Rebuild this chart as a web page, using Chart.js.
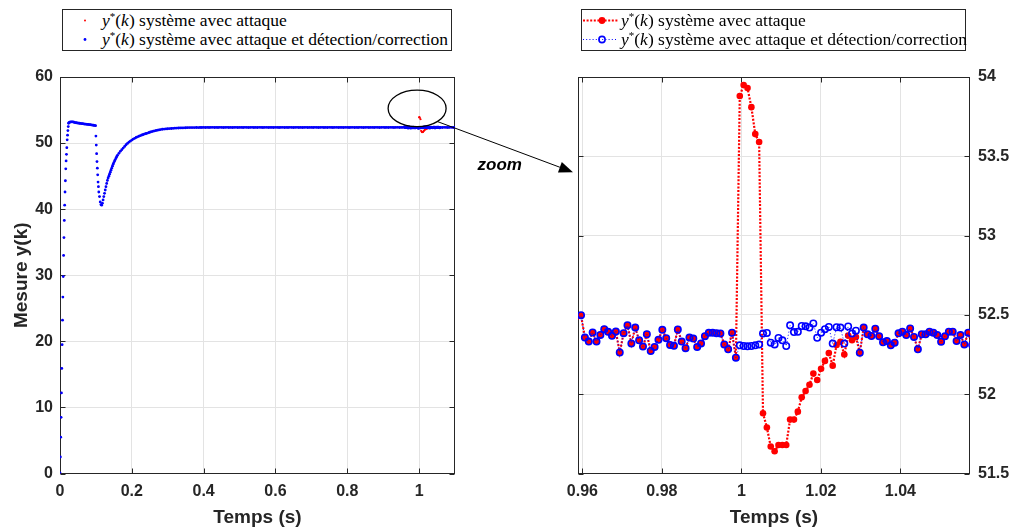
<!DOCTYPE html>
<html><head><meta charset="utf-8">
<script src="https://cdn.jsdelivr.net/npm/chart.js@4.4.1/dist/chart.umd.min.js"></script>
<style>
html,body{margin:0;padding:0;background:#fff;width:1015px;height:532px;overflow:hidden;position:relative}
canvas{position:absolute;top:0}
#left{left:0}
#right{left:500px}
#overlay{left:0;pointer-events:none}
.legend{position:absolute;top:9px;height:42px;border:1px solid #262626;background:#fff;box-sizing:border-box;font-family:"Liberation Serif","Times New Roman",serif;font-size:17.5px;color:#000}
.row{position:absolute;height:19px;line-height:19px;white-space:nowrap}
.row svg{position:absolute;top:0}
.row .txt{position:absolute;top:0}
.row sup{font-size:11px;vertical-align:6px;line-height:0}
#zoomLbl{position:absolute;font:italic bold 17px "Liberation Sans",Arial,sans-serif;color:#000;transform:translate(-50%,-50%);white-space:nowrap}
</style>
</head><body>
<canvas id="left" width="480" height="532"></canvas>
<canvas id="right" width="515" height="532"></canvas>
<canvas id="overlay" width="1015" height="532"></canvas>

<div class="legend" style="left:62px;width:390px">
  <div class="row" style="top:1px;left:0"><svg width="40" height="19" style="left:0"><circle cx="22" cy="9.5" r="1" fill="#ff0000"/></svg><span class="txt" style="left:39px"><i>y</i><sup>*</sup>(<i>k</i>) système avec attaque</span></div>
  <div class="row" style="top:20px;left:0"><svg width="40" height="19" style="left:0"><circle cx="22" cy="9.5" r="1.4" fill="#0000ff"/></svg><span class="txt" style="left:39px"><i>y</i><sup>*</sup>(<i>k</i>) système avec attaque et détection/correction</span></div>
</div>
<div class="legend" style="left:581px;width:385px">
  <div class="row" style="top:1px;left:0"><svg width="40" height="19" style="left:0"><line x1="1" y1="9.5" x2="36" y2="9.5" stroke="#ff0000" stroke-width="2.2" stroke-dasharray="2,1.6"/><circle cx="20" cy="9.5" r="3.4" fill="#ff0000"/></svg><span class="txt" style="left:39px"><i>y</i><sup>*</sup>(<i>k</i>) système avec attaque</span></div>
  <div class="row" style="top:20px;left:0"><svg width="40" height="19" style="left:0"><line x1="1" y1="9.5" x2="36" y2="9.5" stroke="#0000ff" stroke-width="1" stroke-dasharray="1,2.2"/><circle cx="20" cy="9.5" r="3.1" fill="none" stroke="#0000ff" stroke-width="1.6"/></svg><span class="txt" style="left:39px"><i>y</i><sup>*</sup>(<i>k</i>) système avec attaque et détection/correction</span></div>
</div>
<div id="zoomLbl">zoom</div>

<script>
// ---------------- DATA ----------------
// Left panel, before the attack window: both systems give the same output.
const riseStart = 0.000, riseStep = 0.001;
const riseY = [0.1, 2.5, 5.5, 8.5, 12.2, 15.9, 19.5, 23.2, 26.7, 29.8, 33.0, 35.7, 38.3, 40.6, 42.6, 44.3, 46.1, 47.3, 48.3, 49.3, 50.5, 51.2, 51.9, 52.5, 53.0, 53.1];
const plateauStart = 0.027, plateauStep = 0.003;
const plateauY = [53.15, 53.2, 53.22, 53.2, 53.15, 53.1, 53.08, 53.05, 53.02, 53.0, 52.98, 52.95, 52.93, 52.9, 52.88, 52.86, 52.84, 52.82, 52.8, 52.78, 52.75, 52.72, 52.7, 52.67, 52.63];
const dropT = [0.100, 0.101, 0.102, 0.103, 0.104, 0.105, 0.106, 0.107, 0.108, 0.110, 0.112, 0.114, 0.116];
const dropY = [51.06, 49.7, 48.4, 47.2, 46.2, 45.2, 44.1, 43.4, 42.6, 41.9, 41.1, 40.7, 40.6];
const recov1Start = 0.118, recov1Step = 0.002;
const recov1Y = [40.9, 41.4, 41.9, 42.4, 42.9, 43.4, 43.9, 44.35, 44.7, 45.0, 45.3, 45.6, 45.9, 46.2, 46.5, 46.8, 47.05, 47.3, 47.5, 47.75, 47.95, 48.15];
const recov2Start = 0.164, recov2Step = 0.004;
const recov2Y = [48.45, 48.75, 49.0, 49.25, 49.5, 49.75, 49.95, 50.15, 50.3, 50.45, 50.6, 50.72, 50.85, 50.95, 51.05, 51.14, 51.22, 51.3, 51.38, 51.45, 51.52, 51.6, 51.68, 51.74, 51.8, 51.86, 51.91, 51.96, 52.0, 52.05];
const recov3Start = 0.285, recov3Step = 0.005;
const recov3Y = [52.09, 52.12, 52.15, 52.17, 52.19, 52.21, 52.23, 52.25, 52.27, 52.28, 52.29, 52.3, 52.31, 52.32];
const steadyStart = 0.355, steadyStep = 0.005;
const steadyY = [
 52.33, 52.34, 52.34, 52.35, 52.35, 52.36, 52.35, 52.36, 52.36, 52.37,
 52.36, 52.37, 52.36, 52.37, 52.38, 52.36, 52.37, 52.36, 52.38, 52.37,
 52.36, 52.37, 52.38, 52.36, 52.37, 52.36, 52.37, 52.38, 52.36, 52.37,
 52.37, 52.36, 52.38, 52.37, 52.36, 52.37, 52.38, 52.36, 52.37, 52.36,
 52.38, 52.37, 52.36, 52.37, 52.38, 52.36, 52.37, 52.37, 52.36, 52.38,
 52.37, 52.36, 52.37, 52.38, 52.36, 52.37, 52.36, 52.38, 52.37, 52.36,
 52.37, 52.38, 52.36, 52.37, 52.36, 52.37, 52.38, 52.36, 52.37, 52.37,
 52.36, 52.38, 52.37, 52.36, 52.37, 52.38, 52.36, 52.37, 52.36, 52.38,
 52.37, 52.36, 52.37, 52.38, 52.36, 52.37, 52.37, 52.36, 52.38, 52.37,
 52.36, 52.37, 52.38, 52.36, 52.37, 52.36, 52.38, 52.37, 52.36, 52.37,
 52.38, 52.36, 52.37, 52.37, 52.36, 52.38, 52.37, 52.36, 52.37, 52.38,
 52.36, 52.37, 52.36, 52.38, 52.37, 52.36, 52.37, 52.38, 52.36, 52.37,
 52.37];
const tailStart = 1.060, tailStep = 0.005;
const tailY = [52.37, 52.36, 52.38, 52.37, 52.36, 52.37, 52.38, 52.36, 52.37];

// Attack window (right panel): samples k = 0..101, sampling period Te
const zoomStart = 0.95965, Te = 0.000974;
const zoomAttack = [
 52.498, 52.357, 52.332, 52.389, 52.332, 52.374, 52.41, 52.393, 52.368, 52.395,
 52.263, 52.385, 52.435, 52.32, 52.42, 52.34, 52.30, 52.378, 52.273, 52.298,
 52.343, 52.406, 52.353, 52.311, 52.305, 52.408, 52.332, 52.29, 52.357, 52.351,
 52.298, 52.32, 52.366, 52.387, 52.387, 52.385, 52.383, 52.314, 52.283, 52.388,
 52.23, 53.88, 53.95, 53.93, 53.81, 53.64, 53.59, 51.88, 51.79, 51.67,
 51.64, 51.68, 51.68, 51.68, 51.84, 51.84, 51.89, 51.98, 52.02, 52.06,
 52.13, 52.09, 52.16, 52.21, 52.26, 52.18, 52.31, 52.33, 52.25, 52.37,
 52.34, 52.36, 52.262, 52.42, 52.378, 52.367, 52.413, 52.365, 52.327, 52.335,
 52.308, 52.325, 52.384, 52.394, 52.373, 52.415, 52.361, 52.283, 52.378, 52.378,
 52.394, 52.388, 52.373, 52.331, 52.365, 52.394, 52.394, 52.335, 52.373, 52.314,
 52.388, 52.31];
const zoomCorrected = [
 52.498, 52.357, 52.332, 52.389, 52.332, 52.374, 52.41, 52.393, 52.368, 52.395,
 52.263, 52.385, 52.435, 52.32, 52.42, 52.34, 52.30, 52.378, 52.273, 52.298,
 52.343, 52.406, 52.353, 52.311, 52.305, 52.408, 52.332, 52.29, 52.357, 52.351,
 52.298, 52.32, 52.366, 52.387, 52.387, 52.385, 52.383, 52.314, 52.283, 52.388,
 52.23, 52.308, 52.304, 52.302, 52.304, 52.308, 52.314, 52.382, 52.386, 52.325,
 52.314, 52.355, 52.34, 52.304, 52.434, 52.392, 52.393, 52.43, 52.428, 52.42,
 52.446, 52.356, 52.388, 52.41, 52.424, 52.319, 52.422, 52.42, 52.319, 52.427,
 52.383, 52.40, 52.262, 52.42, 52.378, 52.367, 52.413, 52.365, 52.327, 52.335,
 52.308, 52.325, 52.384, 52.394, 52.373, 52.415, 52.361, 52.283, 52.378, 52.378,
 52.394, 52.388, 52.373, 52.331, 52.365, 52.394, 52.394, 52.335, 52.373, 52.314,
 52.388, 52.31];

// Ticks
const leftXTicks = [0, 0.2, 0.4, 0.6, 0.8, 1];
const leftYTicks = [0, 10, 20, 30, 40, 50, 60];
const rightXTicks = [0.96, 0.98, 1, 1.02, 1.04];
const rightYTicks = [51.5, 52, 52.5, 53, 53.5, 54];

// --------------- build series -----------------
function seg(start, step, ys) { return ys.map((y, i) => ({x: +(start + i * step).toFixed(6), y})); }
const before = [].concat(
  seg(riseStart, riseStep, riseY),
  seg(plateauStart, plateauStep, plateauY),
  dropT.map((t, i) => ({x: t, y: dropY[i]})),
  seg(recov1Start, recov1Step, recov1Y),
  seg(recov2Start, recov2Step, recov2Y),
  seg(recov3Start, recov3Step, recov3Y),
  seg(steadyStart, steadyStep, steadyY)
);
const after = seg(tailStart, tailStep, tailY);
const seriesAttack = before.concat(seg(zoomStart, Te, zoomAttack), after);
const seriesCorrected = before.concat(seg(zoomStart, Te, zoomCorrected), after);

const RED = '#ff0000', BLUE = '#0000ff', AXC = '#262626', GRID = '#e3e3e3';
const tickFont = {family: '"Liberation Sans", Arial, sans-serif', size: 16, weight: 'bold'};
const titleFont = {family: '"Liberation Sans", Arial, sans-serif', size: 19, weight: 'bold'};

const framePlugin = {
  id: 'frame',
  beforeDatasetsDraw(chart) {
    const {ctx, chartArea: a, scales: {x, y}} = chart;
    ctx.save();
    ctx.strokeStyle = AXC; ctx.lineWidth = 1;
    const l = Math.round(a.left) + 0.5, r = Math.round(a.right) - 0.5, t = Math.round(a.top) + 0.5, b = Math.round(a.bottom) - 0.5;
    ctx.strokeRect(l, t, r - l, b - t);
    const L = 5;
    ctx.beginPath();
    x.ticks.forEach(tk => { const p = Math.round(x.getPixelForValue(tk.value)) + 0.5; ctx.moveTo(p, b); ctx.lineTo(p, b - L); ctx.moveTo(p, t); ctx.lineTo(p, t + L); });
    y.ticks.forEach(tk => { const p = Math.round(y.getPixelForValue(tk.value)) + 0.5; ctx.moveTo(l, p); ctx.lineTo(l + L, p); ctx.moveTo(r, p); ctx.lineTo(r - L, p); });
    ctx.stroke();
    ctx.restore();
  }
};

function axisX(min, max, ticksArr, fmt) {
  return {
    type: 'linear', position: 'bottom', min, max,
    afterBuildTicks: s => { s.ticks = ticksArr.map(v => ({value: v})); },
    afterFit: s => { s.height = 58.5; },
    grid: {color: GRID, lineWidth: 1, drawTicks: false},
    border: {display: false},
    ticks: {font: tickFont, color: AXC, padding: 8, maxRotation: 0, autoSkip: false, callback: fmt},
    title: {display: true, text: 'Temps (s)', font: titleFont, color: AXC, padding: {top: 0, bottom: 3}}
  };
}
const fmt = v => String(+(+v).toFixed(2));

const leftChart = new Chart(document.getElementById('left'), {
  type: 'scatter',
  data: {datasets: [
    {label: 'attaque', data: seriesAttack, showLine: false, pointRadius: 0.9, pointBackgroundColor: RED, pointBorderWidth: 0, order: 2},
    {label: 'correction', data: seriesCorrected, showLine: false, pointRadius: 1.4, pointBackgroundColor: BLUE, pointBorderWidth: 0, order: 1}
  ]},
  options: {
    responsive: false, animation: false, devicePixelRatio: 1, events: [],
    layout: {padding: {top: 77, right: 25, bottom: 0, left: 0}},
    plugins: {legend: {display: false}, tooltip: {enabled: false}},
    scales: {
      x: axisX(0, 1.1, leftXTicks, fmt),
      y: {type: 'linear', position: 'left', min: 0, max: 60,
          afterBuildTicks: s => { s.ticks = leftYTicks.map(v => ({value: v})); },
          afterFit: s => { s.width = 60; },
          grid: {color: GRID, lineWidth: 1, drawTicks: false}, border: {display: false},
          ticks: {font: tickFont, color: AXC, padding: 7},
          title: {display: true, text: 'Mesure y(k)', font: titleFont, color: AXC, padding: {top: 10, bottom: 0}}}
    }
  },
  plugins: [framePlugin]
});

const rightChart = new Chart(document.getElementById('right'), {
  type: 'scatter',
  data: {datasets: [
    {label: 'attaque', data: seriesAttack, showLine: true, borderColor: RED, borderWidth: 2.2, borderDash: [2, 1.6],
     pointRadius: 3.3, pointBackgroundColor: RED, pointBorderWidth: 0, order: 2},
    {label: 'correction', data: seriesCorrected, showLine: true, borderColor: BLUE, borderWidth: 1, borderDash: [1, 2.2],
     pointRadius: 3.2, pointBackgroundColor: 'rgba(0,0,0,0)', pointBorderColor: BLUE, pointBorderWidth: 1.6, order: 1}
  ]},
  options: {
    responsive: false, animation: false, devicePixelRatio: 1, events: [],
    layout: {padding: {top: 77, right: 0, bottom: 0, left: 78}},
    plugins: {legend: {display: false}, tooltip: {enabled: false}},
    scales: {
      x: axisX(0.95889, 1.0575, rightXTicks, fmt),
      y: {type: 'linear', position: 'right', min: 51.5, max: 54,
          afterBuildTicks: s => { s.ticks = rightYTicks.map(v => ({value: v})); },
          afterFit: s => { s.width = 45; },
          grid: {color: GRID, lineWidth: 1, drawTicks: false}, border: {display: false},
          ticks: {font: tickFont, color: AXC, padding: 8, callback: fmt}}
    }
  },
  plugins: [framePlugin]
});

// ---------------- annotation: ellipse + arrow + "zoom" ----------------
(function drawOverlay() {
  const ctx = document.getElementById('overlay').getContext('2d');
  const L = leftChart, R = rightChart, offR = 500;
  const cx = L.scales.x.getPixelForValue(0.9945), cy = L.scales.y.getPixelForValue(55.25);
  const rx = 29, ry = 18.3;
  ctx.strokeStyle = '#000'; ctx.lineWidth = 1.3;
  ctx.beginPath(); ctx.ellipse(cx, cy, rx, ry, 0, 0, 2 * Math.PI); ctx.stroke();
  const a0 = 0.8;
  const sx = cx + rx * Math.cos(a0), sy = cy + ry * Math.sin(a0);
  const ex = R.chartArea.left + offR - 5, ey = R.scales.y.getPixelForValue(53.4);
  const ang = Math.atan2(ey - sy, ex - sx), hl = 14, hw = 5.5;
  const bx = ex - hl * Math.cos(ang), by = ey - hl * Math.sin(ang);
  ctx.lineWidth = 1;
  ctx.beginPath(); ctx.moveTo(sx, sy); ctx.lineTo(bx, by); ctx.stroke();
  ctx.fillStyle = '#000';
  ctx.beginPath(); ctx.moveTo(ex, ey);
  ctx.lineTo(bx + hw * Math.sin(ang), by - hw * Math.cos(ang));
  ctx.lineTo(bx - hw * Math.sin(ang), by + hw * Math.cos(ang));
  ctx.closePath(); ctx.fill();
  const lbl = document.getElementById('zoomLbl');
  const mx = sx + (ex - sx) * 0.46, my = sy + (ey - sy) * 0.46;
  lbl.style.left = mx + 'px'; lbl.style.top = (my + 20) + 'px';
})();
</script>
</body></html>
